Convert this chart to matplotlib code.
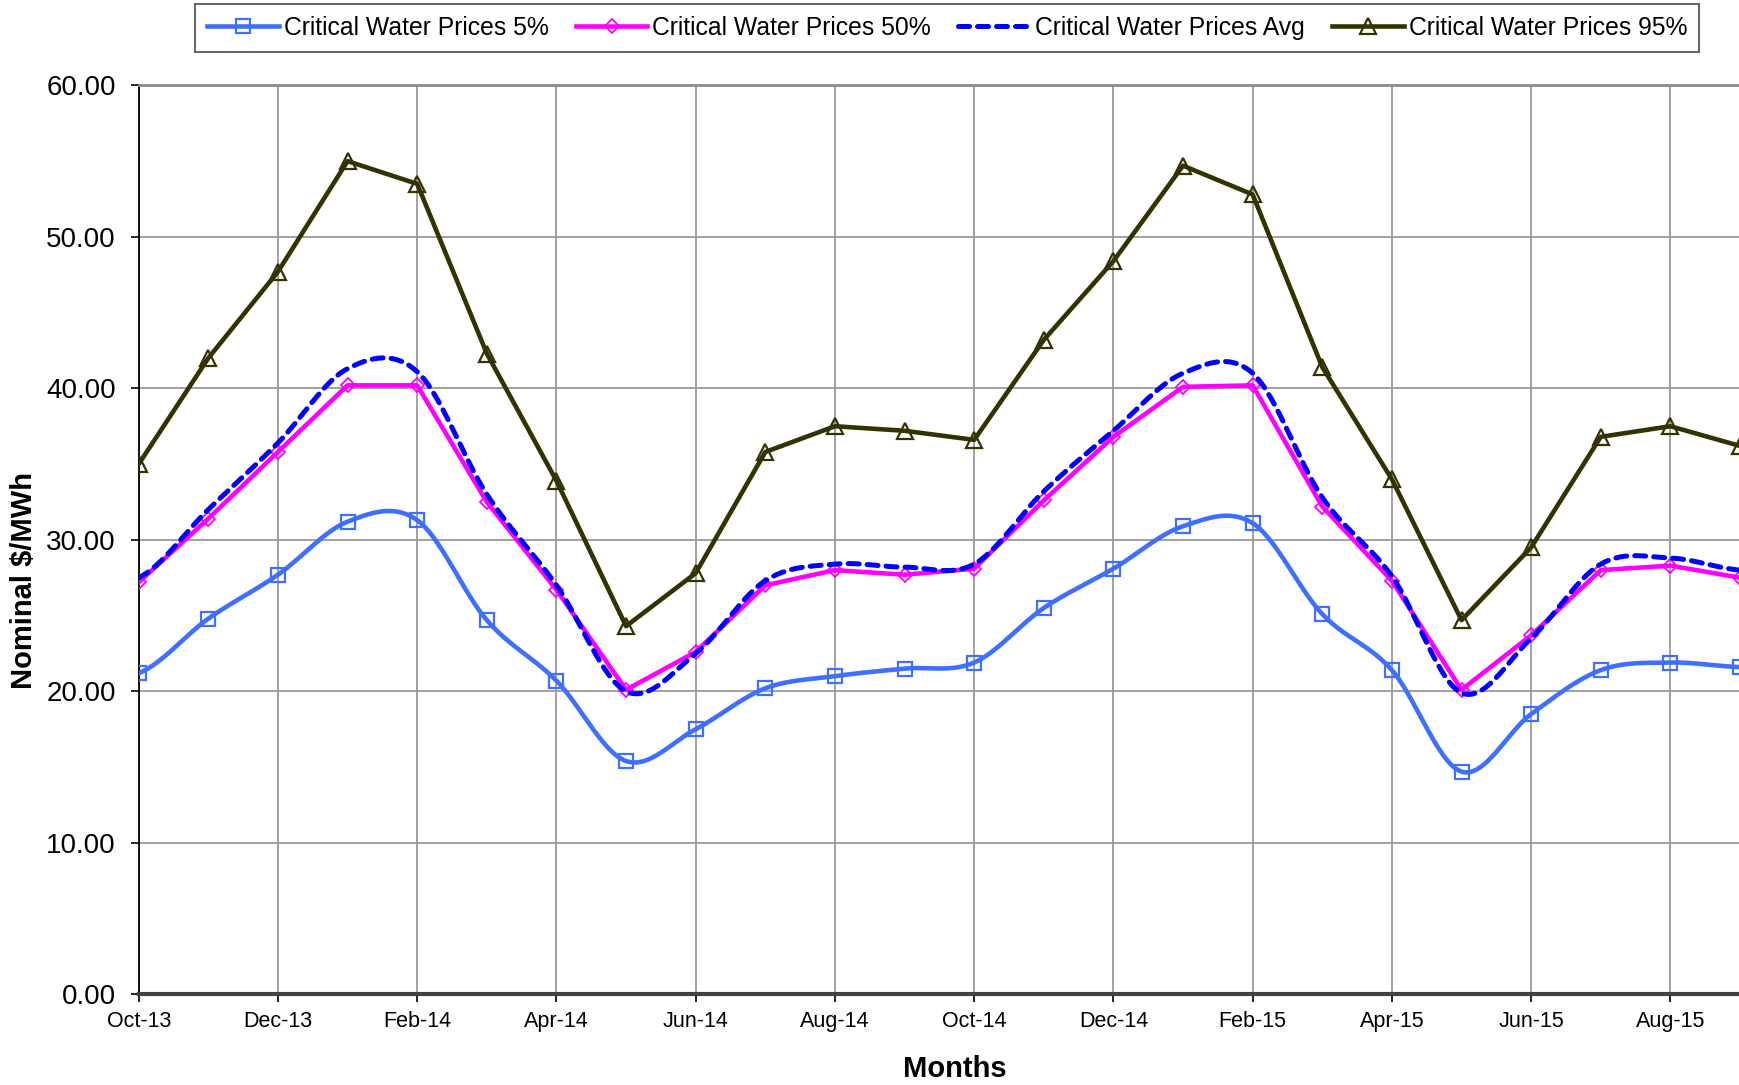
import numpy as np
import matplotlib
matplotlib.use("Agg")
import matplotlib.pyplot as plt
from matplotlib.lines import Line2D

plt.rcParams['font.family'] = ['Liberation Sans', 'DejaVu Sans']

months = ["Oct-13", "Nov-13", "Dec-13", "Jan-14", "Feb-14", "Mar-14", "Apr-14", "May-14",
          "Jun-14", "Jul-14", "Aug-14", "Sep-14", "Oct-14", "Nov-14", "Dec-14", "Jan-15",
          "Feb-15", "Mar-15", "Apr-15", "May-15", "Jun-15", "Jul-15", "Aug-15", "Sep-15"]

p5 = [21.2, 24.8, 27.7, 31.2, 31.3, 24.7, 20.7, 15.4, 17.5, 20.2, 21.0, 21.5,
      21.9, 25.5, 28.1, 30.9, 31.1, 25.1, 21.4, 14.7, 18.5, 21.4, 21.9, 21.6]
p50 = [27.2, 31.4, 35.8, 40.2, 40.2, 32.5, 26.7, 20.1, 22.6, 27.0, 28.0, 27.7,
       28.1, 32.6, 36.8, 40.1, 40.2, 32.2, 27.3, 20.1, 23.7, 28.0, 28.3, 27.5]
pavg = [27.5, 32.0, 36.4, 41.3, 41.1, 33.0, 27.0, 20.0, 22.5, 27.3, 28.4, 28.2,
        28.4, 33.2, 37.2, 41.0, 41.0, 32.8, 27.6, 19.9, 23.5, 28.4, 28.8, 28.0]
p95 = [35.0, 42.0, 47.7, 55.0, 53.5, 42.3, 33.9, 24.3, 27.8, 35.8, 37.5, 37.2,
       36.6, 43.2, 48.4, 54.7, 52.8, 41.4, 34.0, 24.7, 29.5, 36.8, 37.5, 36.2]

labels = ["Critical Water Prices 5%", "Critical Water Prices 50%",
          "Critical Water Prices Avg", "Critical Water Prices 95%"]


def smooth(y, n=30):
    y = np.asarray(y, float)
    x = np.arange(len(y), dtype=float)
    xs, ys = [], []
    for i in range(len(y) - 1):
        p0 = y[i - 1] if i > 0 else y[i]
        p1, p2 = y[i], y[i + 1]
        p3 = y[i + 2] if i + 2 < len(y) else y[i + 1]
        m1 = (p2 - p0) / 2.0
        m2 = (p3 - p1) / 2.0
        t = np.linspace(0, 1, n, endpoint=False)
        h00 = 2 * t**3 - 3 * t**2 + 1
        h10 = t**3 - 2 * t**2 + t
        h01 = -2 * t**3 + 3 * t**2
        h11 = t**3 - t**2
        xs.append(x[i] + t)
        ys.append(h00 * p1 + h10 * m1 + h01 * p2 + h11 * m2)
    xs.append([x[-1]])
    ys.append([y[-1]])
    return np.concatenate(xs), np.concatenate(ys)


W, H = 1740, 1085
fig = plt.figure(figsize=(W / 100, H / 100), dpi=100)
left_px, right_px_at23 = 138.7, 1740.0
top_px, bot_px = 85.4, 994.3
step = (right_px_at23 - left_px) / 23.0
xmax = 24.0
ax_w_px = xmax * step
ax = fig.add_axes([left_px / W, (H - bot_px) / H, ax_w_px / W, (bot_px - top_px) / H])

x = np.arange(len(months))

c5 = "#3F6FFF"
c50 = "#FF00FF"
cavg = "#0000FF"
c95 = "#333300"

xs, ys = smooth(p5)
ax.plot(xs, ys, color=c5, lw=3.3, zorder=3, solid_capstyle='round')
ax.plot(x, p5, ls='none', marker='s', ms=10, mfc='none', mec=c5, mew=1.6, zorder=4)

ax.plot(x, p50, color=c50, lw=3.3, zorder=3, marker='D', ms=7.5, mfc='none', mec=c50, mew=1.3)

xs, ys = smooth(pavg)
ax.plot(xs, ys, color=cavg, lw=3.6, ls=(0, (2.2, 1.6)), dash_capstyle='round', zorder=3)

ax.plot(x, p95, color=c95, lw=3.3, zorder=3, marker='^', ms=11, mfc='none', mec=c95, mew=1.6)

handles = [
    Line2D([], [], color=c5, lw=3.3, marker='s', ms=10, mfc='none', mec=c5, mew=1.6),
    Line2D([], [], color=c50, lw=3.3, marker='D', ms=7.5, mfc='none', mec=c50, mew=1.3),
    Line2D([], [], color=cavg, lw=3.6, ls=(0, (2.2, 1.6)), dash_capstyle='round'),
    Line2D([], [], color=c95, lw=3.3, marker='^', ms=11, mfc='none', mec=c95, mew=1.6),
]
leg = fig.legend(handles, labels, loc='center', bbox_to_anchor=(947 / W, 1 - 28 / H),
                 ncol=4, fontsize=17.8, frameon=True, fancybox=False, edgecolor='#404040',
                 handlelength=2.9, handletextpad=0.2, columnspacing=1.1,
                 borderpad=0.5, borderaxespad=0)
leg.get_frame().set_linewidth(1.5)

ax.set_xlim(0, xmax)
ax.set_ylim(0, 60)
ax.set_xticks(x[::2])
ax.set_xticklabels(months[::2], fontsize=15.5)
ax.set_yticks(np.arange(0, 61, 10))
ax.set_yticklabels([f"{v:.2f}" for v in np.arange(0, 61, 10)], fontsize=20)
ax.tick_params(axis='both', direction='out', length=6, width=1.2, color='black')
ax.tick_params(axis='x', pad=6)
ax.tick_params(axis='y', pad=10.5)

ax.grid(True, color='#9A9A9A', lw=1.3)
ax.set_axisbelow(True)

ax.spines['left'].set_color('black')
ax.spines['left'].set_linewidth(1.3)
ax.spines['bottom'].set_color('#404040')
ax.spines['bottom'].set_linewidth(3)
ax.spines['top'].set_color('#8A8A8A')
ax.spines['top'].set_linewidth(2)
ax.spines['right'].set_visible(False)

ax.set_xlabel("Months", fontsize=21, fontweight='bold')
ax.set_ylabel("Nominal $/MWh", fontsize=21, fontweight='bold')
ax.xaxis.set_label_coords((955 - left_px) / ax_w_px, -0.067)
ax.yaxis.set_label_coords((38 - left_px) / ax_w_px, 0.455)

fig.savefig("out.png", dpi=100)
